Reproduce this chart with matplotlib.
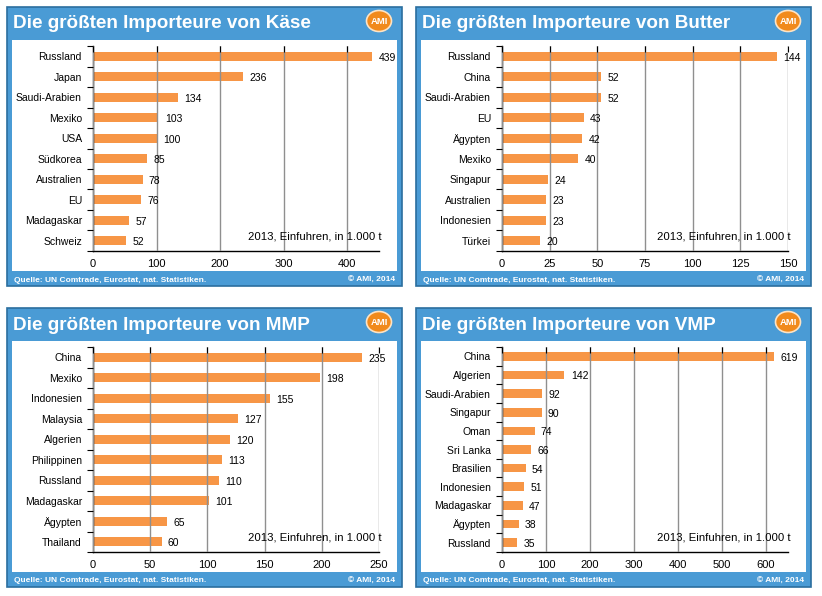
import matplotlib
matplotlib.use("Agg")
import matplotlib.pyplot as plt
from matplotlib.patches import Rectangle, Ellipse
import numpy as np

plt.rcParams['font.family'] = ['Liberation Sans', 'DejaVu Sans']

# data
kaese_countries = ["Russland", "Japan", "Saudi-Arabien", "Mexiko", "USA", "Südkorea",
                   "Australien", "EU", "Madagaskar", "Schweiz"]
kaese_values = [439, 236, 134, 103, 100, 85, 78, 76, 57, 52]

butter_countries = ["Russland", "China", "Saudi-Arabien", "EU", "Ägypten", "Mexiko",
                    "Singapur", "Australien", "Indonesien", "Türkei"]
butter_values = [144, 52, 52, 43, 42, 40, 24, 23, 23, 20]

mmp_countries = ["China", "Mexiko", "Indonesien", "Malaysia", "Algerien", "Philippinen",
                 "Russland", "Madagaskar", "Ägypten", "Thailand"]
mmp_values = [235, 198, 155, 127, 120, 113, 110, 101, 65, 60]

vmp_countries = ["China", "Algerien", "Saudi-Arabien", "Singapur", "Oman", "Sri Lanka",
                 "Brasilien", "Indonesien", "Madagaskar", "Ägypten", "Russland"]
vmp_values = [619, 142, 92, 90, 74, 66, 54, 51, 47, 38, 35]

titles = ["Die größten Importeure von Käse", "Die größten Importeure von Butter",
          "Die größten Importeure von MMP", "Die größten Importeure von VMP"]
x_ticks = [[0, 100, 200, 300, 400], [0, 25, 50, 75, 100, 125, 150],
           [0, 50, 100, 150, 200, 250], [0, 100, 200, 300, 400, 500, 600]]
x_max = [450, 150, 250, 650]
note = "2013, Einfuhren, in 1.000 t"
source = "Quelle: UN Comtrade, Eurostat, nat. Statistiken."
copyright_txt = "© AMI, 2014"

W, H = 822, 596
BLUE = "#4a9bd5"
DARK = "#2b6e9e"
ORANGE = "#f79646"
LOGO = "#f18a1c"

fig = plt.figure(figsize=(W / 100, H / 100), dpi=100)
fig.patch.set_facecolor("white")


def fx(x):
    return x / W


def fy(y):
    return 1 - y / H


def rect(x, y, w, h, **kw):
    fig.patches.append(Rectangle((fx(x), fy(y + h)), w / W, h / H,
                                 transform=fig.transFigure, figure=fig, zorder=-5, **kw))


panels = [(7, 7), (416, 7), (7, 308), (416, 308)]
data = [(kaese_countries, kaese_values), (butter_countries, butter_values),
        (mmp_countries, mmp_values), (vmp_countries, vmp_values)]
PW, PH = 395, 279

for i, ((px, py), (cats, vals)) in enumerate(zip(panels, data)):
    rect(px, py, PW, PH, facecolor=BLUE, edgecolor=DARK, linewidth=1.2)
    rect(px + 5, py + 33, PW - 10, PH - 33 - 15, facecolor="white", edgecolor="none")
    fig.text(fx(px + 6), fy(py + 17), titles[i], color="white", fontsize=13.6,
             fontweight="bold", va="center", ha="left")
    fig.patches.append(Ellipse((fx(px + 372), fy(py + 14)), 25 / W, 21 / H,
                               transform=fig.transFigure, figure=fig, zorder=2,
                               facecolor=LOGO, edgecolor="#fde3c4", linewidth=1.2))
    fig.text(fx(px + 372), fy(py + 14), "AMI", color="white", fontsize=6.8,
             fontweight="bold", ha="center", va="center", zorder=3)
    fig.text(fx(px + 7), fy(py + 273), source, color="white", fontsize=6.0,
             fontweight="bold", ha="left", va="center")
    fig.text(fx(px + 388), fy(py + 273), copyright_txt, color="white", fontsize=6.0,
             fontweight="bold", ha="right", va="center")

    ax = fig.add_axes([fx(px + 86), fy(py + 244), 286 / W, 205 / H])
    ax.set_facecolor("white")
    ax.set_axisbelow(False)
    n = len(cats)
    y = np.arange(n)
    ax.barh(y, vals, height=0.46, color=ORANGE, zorder=1)
    ax.set_ylim(n - 0.5, -0.5)
    ax.set_xlim(0, x_max[i])
    ax.set_yticks(y)
    ax.set_yticklabels(cats, fontsize=7.5)
    ax.set_yticks(np.arange(n + 1) - 0.5, minor=True)
    ax.tick_params(axis="y", which="major", length=0, pad=8)
    ax.tick_params(axis="y", which="minor", length=4, direction="out", width=0.8)
    ax.set_xticks(x_ticks[i])
    ax.set_xticklabels([str(t) for t in x_ticks[i]], fontsize=8)
    ax.tick_params(axis="x", top=True, bottom=False, labelbottom=True,
                   direction="in", length=4, width=0.8, pad=6)
    ax.grid(axis="x", color="#8f8f8f", linewidth=1)
    for s in ["top", "right"]:
        ax.spines[s].set_visible(False)
    ax.spines["left"].set_linewidth(1)
    ax.spines["bottom"].set_linewidth(1)
    for yy, v in zip(y, vals):
        ax.annotate(str(v), (v, yy), xytext=(4.5, -1), textcoords="offset points",
                    fontsize=7.5, va="center", ha="left", zorder=4)
    ax.text(1.01, 0.07, note, transform=ax.transAxes, fontsize=8.2,
            ha="right", va="center", zorder=5)

fig.savefig("out.png", dpi=100, facecolor="white")
